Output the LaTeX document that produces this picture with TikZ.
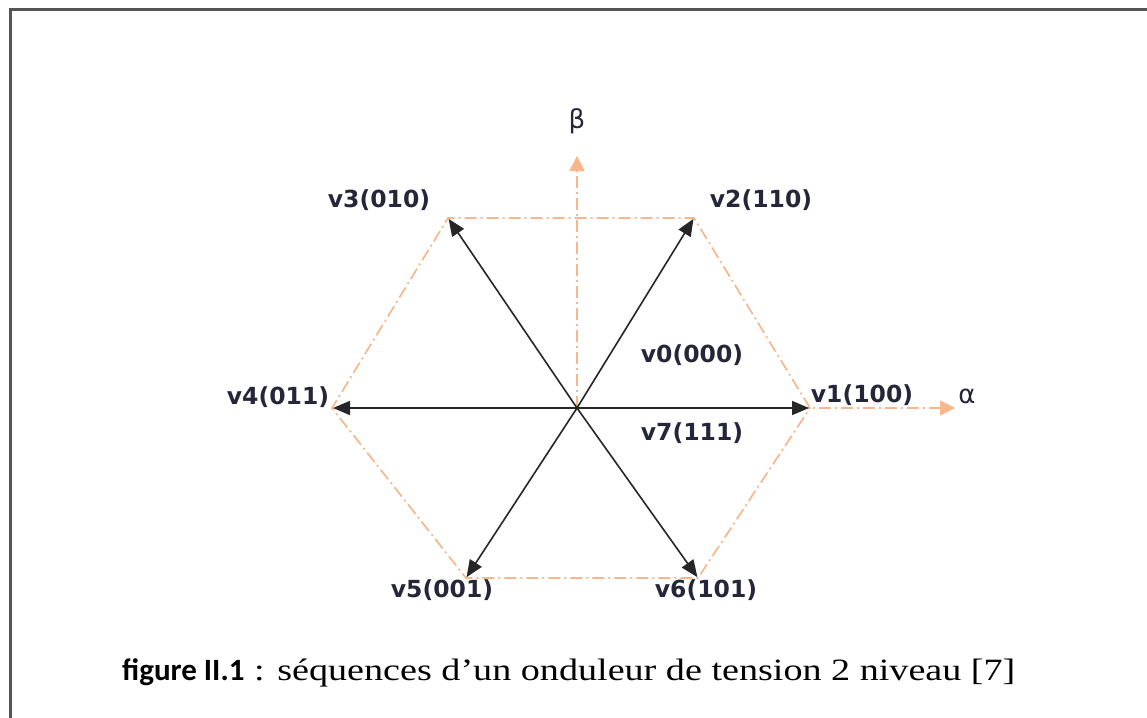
\documentclass[tikz,border=0pt]{standalone}
\usepackage{fontspec}
\setmainfont{Liberation Serif}
\newfontfamily\labfont{DejaVu Sans}
\newfontfamily\calfont{Carlito}
\usetikzlibrary{arrows.meta}
\definecolor{hexor}{HTML}{F8B78A}
\definecolor{framegray}{HTML}{555555}
\definecolor{labcol}{HTML}{26263A}
\tikzset{
  hexline/.style={draw=hexor, line width=1.7pt, dash pattern=on 12pt off 4pt on 2pt off 4pt},
  axisline/.style={hexline, -{Triangle[length=15pt,width=15pt]}},
  vec/.style={draw=black!85, line width=1.6pt, -{Triangle[length=17pt,width=14pt]}, shorten >=1pt},
  lab/.style={text=labcol, font=\labfont\bfseries\fontsize{23.5}{26}\selectfont, inner sep=0pt},
  greek/.style={text=labcol, font=\labfont\fontsize{26}{28}\selectfont, inner sep=0pt},
}
\begin{document}
\begin{tikzpicture}[x=1pt,y=-1pt]
\useasboundingbox (0,0) rectangle (1147,717);
\fill[white] (0,0) rectangle (1147,717);
% frame
\coordinate (fbl) at (10,720);
\coordinate (ftl) at (10,10);
\coordinate (ftr) at (1150,10);
\draw[framegray, line width=3pt] (fbl) -- (ftl) -- (ftr);
% hexagon vertices
\coordinate (O) at (577,408);
\coordinate (V1) at (810,408);
\coordinate (V2) at (694,218);
\coordinate (V3) at (448,218);
\coordinate (V4) at (332,408);
\coordinate (V5) at (466,578);
\coordinate (V6) at (698,578);
\coordinate (Bt) at (577,156);
\coordinate (At) at (955,408);
% hexagon
\draw[hexline] (V1) -- (V2) -- (V3) -- (V4) -- (V5) -- (V6) -- cycle;
% axes
\draw[axisline] (O) -- (Bt);
\draw[axisline] (O) -- (At);
% vectors
\draw[vec] (O) -- (V1);
\draw[vec] (O) -- (V2);
\draw[vec] (O) -- (V3);
\draw[vec] (O) -- (V4);
\draw[vec] (O) -- (V5);
\draw[vec] (O) -- (V6);
% labels
\node[greek] (beta) at (577,121) {β};
\node[greek] (alpha) at (967,396) {α};
\node[lab] (l1) at (862,395) {v1(100)};
\node[lab] (l2) at (761,200) {v2(110)};
\node[lab] (l3) at (379,200) {v3(010)};
\node[lab] (l4) at (278,397) {v4(011)};
\node[lab] (l5) at (442,590) {v5(001)};
\node[lab] (l6) at (706,590) {v6(101)};
\node[lab] (l0) at (692,355) {v0(000)};
\node[lab] (l7) at (692,433) {v7(111)};
% caption
\node[anchor=base west, inner sep=0pt] (cap) at (122,680)
  {{\calfont\bfseries\fontsize{31}{34}\selectfont figure II.1}\scalebox{1.23}[1]{\fontsize{31}{34}\selectfont\ : séquences d’un onduleur de tension 2 niveau [7]}};
\end{tikzpicture}
\end{document}
